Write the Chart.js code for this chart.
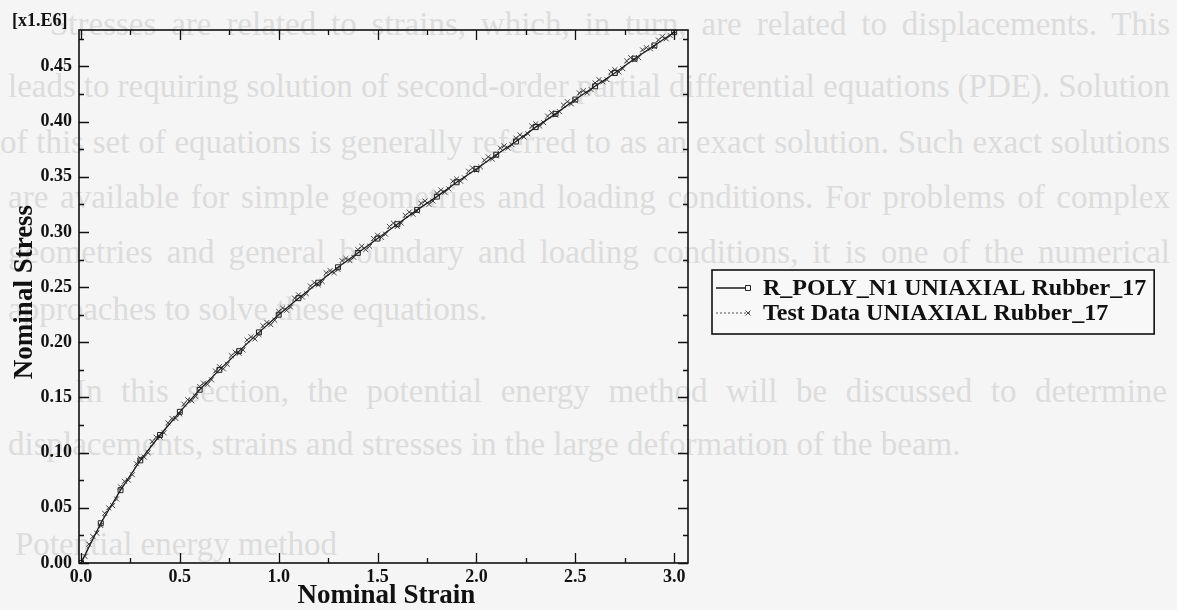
<!DOCTYPE html>
<html>
<head>
<meta charset="utf-8">
<script src="https://cdn.jsdelivr.net/npm/chart.js@4.4.0/dist/chart.umd.min.js"></script>
<style>
html, body { margin: 0; padding: 0; background: #f5f5f5; }
#wrap { position: relative; width: 1177px; height: 610px; overflow: hidden; }
#ghost { position: absolute; left: 0; top: 0; width: 1177px; height: 610px;
         font-family: "Liberation Serif", serif; font-size: 33px; line-height: 38px; color: #dcdcdc; }
#ghost div { position: absolute; white-space: nowrap; }
canvas { position: absolute; left: 0; top: 0; }
</style>
</head>
<body>
<div id="wrap">
  <div id="ghost">
    <div data-w="1120" style="left:50px;top:5px">Stresses are related to strains, which, in turn, are related to displacements. This</div>
    <div data-w="1162" style="left:8px;top:67px">leads to requiring solution of second-order partial differential equations (PDE). Solution</div>
    <div data-w="1170" style="left:0px;top:123px">of this set of equations is generally referred to as an exact solution. Such exact solutions</div>
    <div data-w="1162" style="left:8px;top:178px">are available for simple geometries and loading conditions. For problems of complex</div>
    <div data-w="1162" style="left:8px;top:233px">geometries and general boundary and loading conditions, it is one of the numerical</div>
    <div style="left:8px;top:290px">approaches to solve these equations.</div>
    <div data-w="1092" style="left:75px;top:372px">In this section, the potential energy method will be discussed to determine</div>
    <div style="left:8px;top:425px">displacements, strains and stresses in the large deformation of the beam.</div>
    <div style="left:15px;top:525px">Potential energy method</div>
  </div>
  <canvas id="chart" width="1177" height="610"></canvas>
</div>
<script>
// 背景透印文字两端对齐
document.querySelectorAll('#ghost div').forEach(el => {
    const target = +el.dataset.w;
    if (!target) return;
    const spaces = (el.textContent.match(/ /g) || []).length;
    const natural = el.getBoundingClientRect().width;
    el.style.wordSpacing = ((target - natural) / spaces) + 'px';
});

// 轴刻度
const strainTicks = [0.0, 0.5, 1.0, 1.5, 2.0, 2.5, 3.0];
const stressTicks = [0.00, 0.05, 0.10, 0.15, 0.20, 0.25, 0.30, 0.35, 0.40, 0.45];

// R_POLY_N1 拟合曲线
const modelStrain = [0.0, 0.1, 0.2, 0.3, 0.4, 0.5, 0.6, 0.7, 0.8, 0.9, 1.0,
                     1.1, 1.2, 1.3, 1.4, 1.5, 1.6, 1.7, 1.8, 1.9, 2.0,
                     2.1, 2.2, 2.3, 2.4, 2.5, 2.6, 2.7, 2.8, 2.9, 3.0];
const modelStress = [0.000, 0.036, 0.066, 0.093, 0.116, 0.137, 0.157, 0.175, 0.192, 0.209, 0.225,
                     0.240, 0.254, 0.268, 0.281, 0.294, 0.307, 0.320, 0.332, 0.345, 0.357,
                     0.370, 0.382, 0.395, 0.407, 0.420, 0.432, 0.444, 0.457, 0.469, 0.481];

// 试验数据 (每 0.02 一个点)
const testStrain = [0.00, 0.02, 0.04, 0.06, 0.08, 0.10, 0.12, 0.14, 0.16, 0.18,
                    0.20, 0.22, 0.24, 0.26, 0.28, 0.30, 0.32, 0.34, 0.36, 0.38,
                    0.40, 0.42, 0.44, 0.46, 0.48, 0.50, 0.52, 0.54, 0.56, 0.58,
                    0.60, 0.62, 0.64, 0.66, 0.68, 0.70, 0.72, 0.74, 0.76, 0.78,
                    0.80, 0.82, 0.84, 0.86, 0.88, 0.90, 0.92, 0.94, 0.96, 0.98,
                    1.00, 1.02, 1.04, 1.06, 1.08, 1.10, 1.12, 1.14, 1.16, 1.18,
                    1.20, 1.22, 1.24, 1.26, 1.28, 1.30, 1.32, 1.34, 1.36, 1.38,
                    1.40, 1.42, 1.44, 1.46, 1.48, 1.50, 1.52, 1.54, 1.56, 1.58,
                    1.60, 1.62, 1.64, 1.66, 1.68, 1.70, 1.72, 1.74, 1.76, 1.78,
                    1.80, 1.82, 1.84, 1.86, 1.88, 1.90, 1.92, 1.94, 1.96, 1.98,
                    2.00, 2.02, 2.04, 2.06, 2.08, 2.10, 2.12, 2.14, 2.16, 2.18,
                    2.20, 2.22, 2.24, 2.26, 2.28, 2.30, 2.32, 2.34, 2.36, 2.38,
                    2.40, 2.42, 2.44, 2.46, 2.48, 2.50, 2.52, 2.54, 2.56, 2.58,
                    2.60, 2.62, 2.64, 2.66, 2.68, 2.70, 2.72, 2.74, 2.76, 2.78,
                    2.80, 2.82, 2.84, 2.86, 2.88, 2.90, 2.92, 2.94, 2.96, 2.98,
                    3.00];
const testStress = [0.000, 0.006, 0.017, 0.024, 0.027, 0.034, 0.045, 0.050, 0.052, 0.058,
                    0.069, 0.074, 0.075, 0.080, 0.090, 0.095, 0.096, 0.100, 0.110, 0.114,
                    0.114, 0.118, 0.127, 0.131, 0.131, 0.135, 0.144, 0.148, 0.147, 0.151,
                    0.160, 0.163, 0.162, 0.166, 0.174, 0.178, 0.176, 0.180, 0.188, 0.191,
                    0.190, 0.193, 0.202, 0.205, 0.203, 0.207, 0.215, 0.218, 0.216, 0.220,
                    0.228, 0.231, 0.229, 0.232, 0.240, 0.243, 0.241, 0.244, 0.251, 0.254,
                    0.252, 0.255, 0.263, 0.265, 0.263, 0.266, 0.274, 0.276, 0.274, 0.277,
                    0.284, 0.287, 0.284, 0.287, 0.294, 0.297, 0.295, 0.298, 0.305, 0.308,
                    0.305, 0.308, 0.315, 0.318, 0.316, 0.319, 0.326, 0.328, 0.325, 0.328,
                    0.335, 0.338, 0.336, 0.339, 0.346, 0.348, 0.346, 0.349, 0.355, 0.358,
                    0.356, 0.359, 0.365, 0.368, 0.366, 0.369, 0.376, 0.378, 0.376, 0.379,
                    0.385, 0.388, 0.386, 0.389, 0.396, 0.398, 0.396, 0.399, 0.405, 0.408,
                    0.406, 0.409, 0.415, 0.418, 0.416, 0.419, 0.426, 0.428, 0.426, 0.429,
                    0.435, 0.438, 0.436, 0.438, 0.445, 0.447, 0.445, 0.448, 0.455, 0.458,
                    0.456, 0.458, 0.465, 0.467, 0.466, 0.468, 0.474, 0.477, 0.475, 0.478,
                    0.482];

const legendLabels = ['R_POLY_N1 UNIAXIAL Rubber_17', 'Test Data UNIAXIAL Rubber_17'];

const SERIF = '"Liberation Serif", "Times New Roman", serif';
const INK = '#111';

// 边框、内向刻度、标题和图例
const framePlugin = {
    id: 'frame',
    afterDraw(chart) {
        const ctx = chart.ctx;
        const a = chart.chartArea;
        const xs = chart.scales.x;
        const ys = chart.scales.y;
        ctx.save();
        ctx.strokeStyle = INK;
        ctx.lineWidth = 1.6;
        ctx.strokeRect(a.left, a.top, a.right - a.left, a.bottom - a.top);

        ctx.lineWidth = 1.3;
        ctx.beginPath();
        for (let v = 0; v <= 3.0001; v += 0.25) {
            const px = Math.round(xs.getPixelForValue(v)) + 0.5;
            const len = Math.abs(v * 2 - Math.round(v * 2)) < 0.01 ? 10 : 5;
            ctx.moveTo(px, a.bottom); ctx.lineTo(px, a.bottom - len);
            ctx.moveTo(px, a.top); ctx.lineTo(px, a.top + len);
        }
        for (let v = 0; v <= 0.4801; v += 0.025) {
            const py = Math.round(ys.getPixelForValue(v)) + 0.5;
            const len = Math.abs(v * 20 - Math.round(v * 20)) < 0.01 ? 10 : 5;
            ctx.moveTo(a.left, py); ctx.lineTo(a.left + len, py);
            ctx.moveTo(a.right, py); ctx.lineTo(a.right - len, py);
        }
        ctx.stroke();

        ctx.fillStyle = INK;
        ctx.font = 'bold 27px ' + SERIF;
        ctx.textAlign = 'center';
        ctx.textBaseline = 'alphabetic';
        ctx.fillText('Nominal Strain', (a.left + a.right) / 2 + 3, 603);

        ctx.save();
        ctx.translate(32, 292);
        ctx.rotate(-Math.PI / 2);
        ctx.fillText('Nominal Stress', 0, 0);
        ctx.restore();

        ctx.font = 'bold 18px ' + SERIF;
        ctx.textAlign = 'left';
        ctx.fillText('[x1.E6]', 12, 26);

        // 图例
        ctx.font = 'bold 24px ' + SERIF;
        const tw = Math.max(...legendLabels.map(t => ctx.measureText(t).width));
        const bx = 712, by = 270, bh = 64;
        const bw = 763 - bx + tw + 8;
        ctx.fillStyle = '#f8f8f8';
        ctx.fillRect(bx, by, bw, bh);
        ctx.lineWidth = 1.6;
        ctx.strokeRect(bx, by, bw, bh);
        const rows = [288, 313];
        chart.data.datasets.forEach((ds, i) => {
            const cy = rows[i];
            ctx.strokeStyle = ds.borderColor;
            ctx.lineWidth = ds.borderWidth;
            ctx.setLineDash(ds.borderDash || []);
            ctx.beginPath();
            ctx.moveTo(bx + 4, cy); ctx.lineTo(750, cy);
            ctx.stroke();
            ctx.setLineDash([]);
            ctx.strokeStyle = ds.pointBorderColor;
            ctx.lineWidth = ds.pointBorderWidth;
            Chart.helpers.drawPoint(ctx, { pointStyle: ds.pointStyle, radius: ds.pointRadius, borderWidth: ds.pointBorderWidth }, 748, cy);
            ctx.fillStyle = INK;
            ctx.textBaseline = 'middle';
            ctx.fillText(legendLabels[i], 763, cy + 1);
        });
        ctx.restore();
    }
};

new Chart(document.getElementById('chart').getContext('2d'), {
    type: 'line',
    data: {
        datasets: [
            {
                label: legendLabels[0],
                data: modelStrain.map((x, i) => ({ x: x, y: modelStress[i] })),
                borderColor: '#1a1a1a',
                borderWidth: 1.3,
                pointStyle: 'rect',
                pointRadius: 3.5,
                pointBackgroundColor: 'rgba(0,0,0,0)',
                pointBorderColor: '#222',
                pointBorderWidth: 1,
                tension: 0
            },
            {
                label: legendLabels[1],
                data: testStrain.map((x, i) => ({ x: x, y: testStress[i] })),
                borderColor: '#444',
                borderWidth: 0.9,
                borderDash: [2, 2],
                pointStyle: 'crossRot',
                pointRadius: 3.5,
                pointBorderColor: '#333',
                pointBorderWidth: 0.9,
                tension: 0
            }
        ]
    },
    options: {
        responsive: false,
        animation: false,
        layout: { padding: { top: 30, right: 489, left: 0, bottom: 0 } },
        plugins: { legend: { display: false }, tooltip: { enabled: false } },
        scales: {
            x: {
                type: 'linear',
                min: -0.01,
                max: 3.07,
                afterFit: s => { s.height = 47; },
                afterBuildTicks: s => { s.ticks = strainTicks.map(v => ({ value: v })); },
                ticks: {
                    callback: v => v.toFixed(1),
                    font: { family: SERIF, size: 18, weight: 'bold' },
                    color: INK,
                    padding: 4,
                    maxRotation: 0,
                    autoSkip: false
                },
                grid: { display: false, drawTicks: false },
                border: { display: false }
            },
            y: {
                min: 0,
                max: 0.483,
                afterFit: s => { s.width = 79; },
                afterBuildTicks: s => { s.ticks = stressTicks.map(v => ({ value: v })); },
                ticks: {
                    callback: v => v.toFixed(2),
                    font: { family: SERIF, size: 18, weight: 'bold' },
                    color: INK,
                    padding: 7,
                    autoSkip: false
                },
                grid: { display: false, drawTicks: false },
                border: { display: false }
            }
        }
    },
    plugins: [framePlugin]
});
</script>
</body>
</html>
